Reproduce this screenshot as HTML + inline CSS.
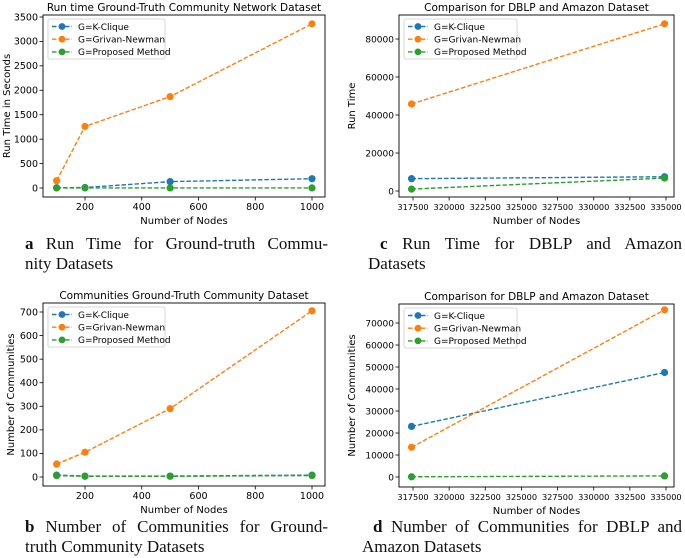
<!DOCTYPE html>
<html><head><meta charset="utf-8">
<style>
body{margin:0;background:#fff;width:685px;height:558px;overflow:hidden;position:relative;font-family:"DejaVu Sans","Liberation Sans",sans-serif}
svg{position:absolute;left:0;top:0}
.cap{position:absolute;font-family:"Liberation Serif",serif;font-size:17px;line-height:20px;color:#111}
.cap div{white-space:nowrap}
.cap .j{text-align:justify;text-align-last:justify;white-space:normal}
.cap b{font-weight:bold}
</style></head><body>
<svg id="chart" width="685" height="558"></svg>
<div class="cap" style="left:25px;top:234px;width:303px"><div class="j"><b>a</b> Run Time for Ground-truth Commu-</div><div>nity Datasets</div></div>
<div class="cap" style="left:25px;top:517px;width:303px"><div class="j"><b>b</b> Number of Communities for Ground-</div><div>truth Community Datasets</div></div>
<div class="cap" style="left:368px;top:234px;width:314px"><div class="j" style="padding-left:12px"><b>c</b> Run Time for DBLP and Amazon</div><div>Datasets</div></div>
<div class="cap" style="left:362px;top:517px;width:320px"><div class="j" style="padding-left:11px"><b>d</b> Number of Communities for DBLP and</div><div>Amazon Datasets</div></div>
<script>
const seriesNames = ["G=K-Clique","G=Grivan-Newman","G=Proposed Method"];
const colors = ["#1f77b4","#ff7f0e","#2ca02c"];
const nodesSmall = [100,200,500,1000];
const nodesLarge = [317400,334900];
const runA_kclique = [5,10,130,190];
const runA_girvan = [150,1260,1870,3360];
const runA_proposed = [2,2,2,2];
const commB_kclique = [8,4,4,8];
const commB_girvan = [55,105,290,705];
const commB_proposed = [6,3,3,6];
const runC_kclique = [6500,7500];
const runC_girvan = [45800,88000];
const runC_proposed = [1000,6800];
const commD_kclique = [23000,47500];
const commD_girvan = [13500,76000];
const commD_proposed = [100,500];
const xTicksSmall = [200,400,600,800,1000];
const xTicksLarge = [317500,320000,322500,325000,327500,330000,332500,335000];
const yTicksA = [0,500,1000,1500,2000,2500,3000,3500];
const yTicksB = [0,100,200,300,400,500,600,700];
const yTicksC = [0,20000,40000,60000,80000];
const yTicksD = [0,10000,20000,30000,40000,50000,60000,70000];

const svg = document.getElementById('chart');
const NS = "http://www.w3.org/2000/svg";
function mk(tag, attrs, parent){const e=document.createElementNS(NS,tag);for(const k in attrs)e.setAttribute(k,attrs[k]);(parent||svg).appendChild(e);return e;}

function panel(p){
  const g = mk('g',{});
  
  
  const xs = v => p.xp0 + (v - p.xv0) * (p.xp1 - p.xp0) / (p.xv1 - p.xv0);
  const ys = v => p.yp0 + (v - p.yv0) * (p.yp1 - p.yp0) / (p.yv1 - p.yv0);
  const t = mk('text',{x:(p.L+p.R)/2,y:p.T-4,'text-anchor':'middle','font-size':'10.5',fill:'#000'},g);
  t.textContent = p.title;
  
  
  p.xt.forEach(v=>{
    const x = xs(v);
    mk('line',{x1:x,x2:x,y1:p.B,y2:p.B+3.5,stroke:'#000','stroke-width':0.8},g);
    const tx = mk('text',{x:x,y:p.B+13,'text-anchor':'middle','font-size':p.xfs,fill:'#000'},g);
    tx.textContent = v;
    
    
  });
  p.yt.forEach(v=>{
    const y = ys(v);
    mk('line',{x1:p.L-3.5,x2:p.L,y1:y,y2:y,stroke:'#000','stroke-width':0.8},g);
    const ty = mk('text',{x:p.L-5,y:y+3.3,'text-anchor':'end','font-size':p.yfs,fill:'#000'},g);
    ty.textContent = v;
    
    
  });
  const xl = mk('text',{x:(p.L+p.R)/2,y:p.B+27,'text-anchor':'middle','font-size':'10',fill:'#000'},g);
  xl.textContent = 'Number of Nodes';
  
  
  const cy = (p.T+p.B)/2;
  const yl = mk('text',{x:p.ylx,y:cy,'text-anchor':'middle','font-size':'10',fill:'#000',transform:`rotate(-90 ${p.ylx} ${cy})`},g);
  yl.textContent = p.ylabel;
  
  
  p.series.forEach((vals,i)=>{
    const pts = vals.map((v,j)=>xs(p.xv[j])+','+ys(v)).join(' ');
    const pl = mk('polyline',{points:pts,fill:'none',stroke:colors[i],'stroke-width':1.4,'stroke-dasharray':'4.5,2'},g);
    
    
    vals.forEach((v,j)=>{
      const c = mk('circle',{cx:xs(p.xv[j]),cy:ys(v),r:3.6,fill:colors[i]},g);
      
      
    });
  });
  mk('rect',{x:p.L,y:p.T,width:p.R-p.L,height:p.B-p.T,fill:'none',stroke:'#000','stroke-width':0.9},g);
  const lx = p.L+5, ly = p.T+4;
  const lg = mk('g',{},g);
  
  
  mk('rect',{x:lx,y:ly,width:p.lw,height:40,fill:'#fff',stroke:'#ccc','stroke-width':0.8,rx:2},lg);
  seriesNames.forEach((n,i)=>{
    const yy = ly+7.5+i*12.7;
    mk('line',{x1:lx+4,x2:lx+24,y1:yy,y2:yy,stroke:colors[i],'stroke-width':1.4,'stroke-dasharray':'4.5,2'},lg);
    mk('circle',{cx:lx+14,cy:yy,r:3.4,fill:colors[i]},lg);
    const tt = mk('text',{x:lx+30,y:yy+3.3,'font-size':'9',fill:'#000'},lg);
    tt.textContent = n;
    
    
  });
}

panel({id:'panel-a',title:'Run time Ground-Truth Community Network Dataset',ylabel:'Run Time in Seconds',ylx:10,lw:117,xfs:9.5,yfs:9.5,
  L:43,R:325,T:15,B:197,xv0:200,xv1:1000,xp0:85,xp1:312,yv0:0,yv1:3500,yp0:188,yp1:17,
  xt:xTicksSmall,yt:yTicksA,xv:nodesSmall,series:[runA_kclique,runA_girvan,runA_proposed]});
panel({id:'panel-b',title:'Communities Ground-Truth Community Dataset',ylabel:'Number of Communities',ylx:14,lw:117,xfs:9.5,yfs:9.5,
  L:43,R:325,T:303,B:486,xv0:200,xv1:1000,xp0:85,xp1:312,yv0:0,yv1:700,yp0:477,yp1:312,
  xt:xTicksSmall,yt:yTicksB,xv:nodesSmall,series:[commB_kclique,commB_girvan,commB_proposed]});
panel({id:'panel-c',title:'Comparison for DBLP and Amazon Dataset',ylabel:'Run Time',ylx:355,lw:113,xfs:8.2,yfs:9,
  L:399,R:674,T:15,B:197,xv0:317500,xv1:335000,xp0:413,xp1:666,yv0:0,yv1:80000,yp0:191,yp1:39,
  xt:xTicksLarge,yt:yTicksC,xv:nodesLarge,series:[runC_kclique,runC_girvan,runC_proposed]});
panel({id:'panel-d',title:'Comparison for DBLP and Amazon Dataset',ylabel:'Number of Communities',ylx:355,lw:113,xfs:8.2,yfs:9,
  L:399,R:674,T:304,B:487,xv0:317500,xv1:335000,xp0:413,xp1:666,yv0:0,yv1:70000,yp0:477,yp1:323,
  xt:xTicksLarge,yt:yTicksD,xv:nodesLarge,series:[commD_kclique,commD_girvan,commD_proposed]});
</script>
</body></html>
